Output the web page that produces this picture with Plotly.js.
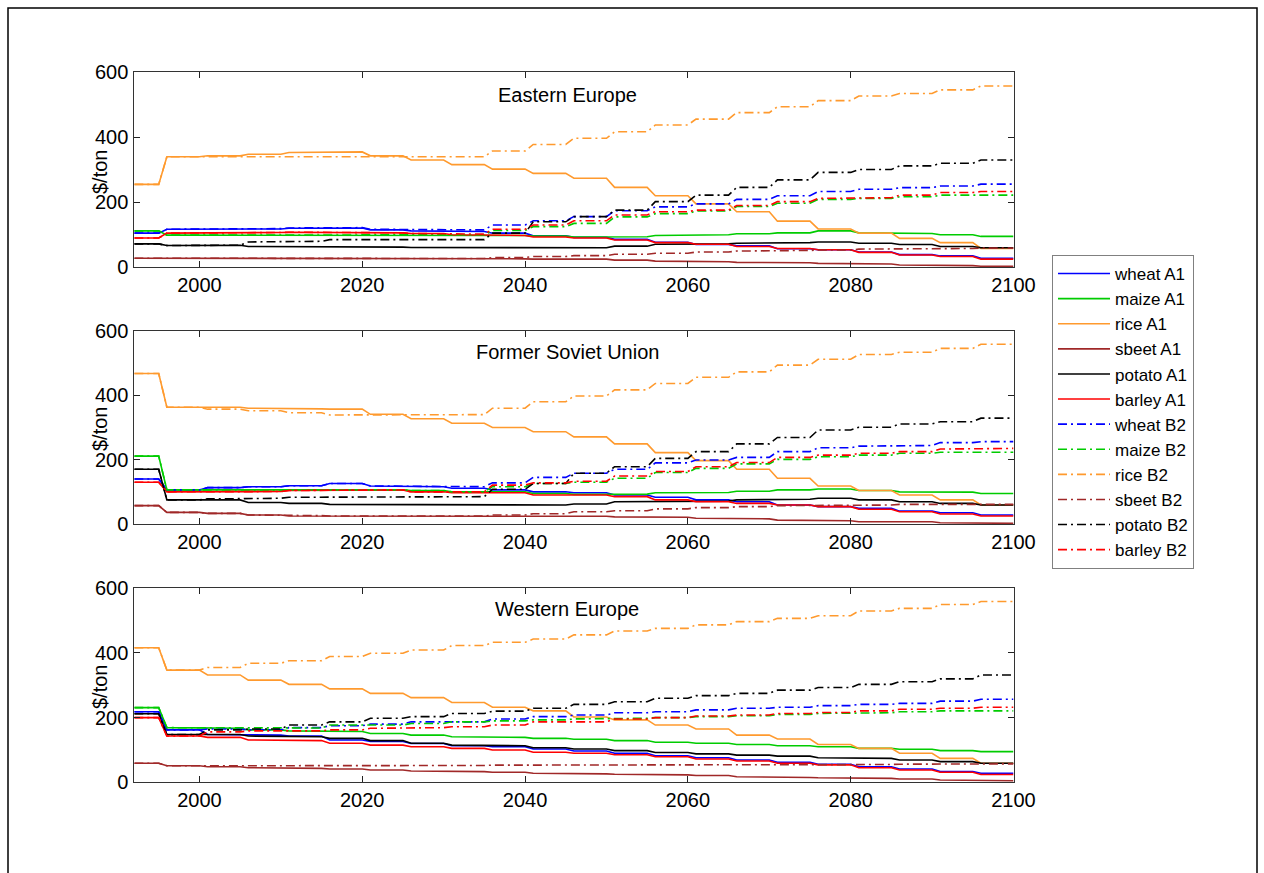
<!DOCTYPE html>
<html>
<head>
<meta charset="utf-8">
<script src="https://cdn.plot.ly/plotly-3.0.1.min.js"></script>
<style>html,body{margin:0;padding:0;background:#fff;}#chart{width:1264px;height:873px;}</style>
</head>
<body>
<div id="chart"></div>
<script>
// ---- period boundaries (5-year steps) ----
const periodStart = [1992,1996,2001,2006,2011,2016,2021,2026,2031,2036,2041,2046,2051,2056,2061,2066,2071,2076,2081,2086,2091,2096];
const periodEnd   = [1995,2000,2005,2010,2015,2020,2025,2030,2035,2040,2045,2050,2055,2060,2065,2070,2075,2080,2085,2090,2095,2100];

const crops = ["wheat","maize","rice","sbeet","potato","barley"];
const scenarios = ["A1","B2"];
const regions = ["Eastern Europe","Former Soviet Union","Western Europe"];
const yTicks = [0,200,400,600];
const xTicks = [2000,2020,2040,2060,2080,2100];

// ---- Eastern Europe ($/ton) ----
const ee_wheat_A1  = [105,117,118,118,120,121,115,112,110,105,97,92,86,77,70,66,57,54,47,39,35,28];
const ee_maize_A1  = [112,99,99,100,100,100,100,100,100,98,96,93,94,98,100,103,106,112,106,104,100,95];
const ee_rice_A1   = [255,340,343,348,353,355,343,330,316,302,289,274,246,220,195,171,142,118,105,89,76,58];
const ee_sbeet_A1  = [28,26,27,27,26,26,26,26,26,26,25,25,22,19,17,15,14,12,10,7,5,3];
const ee_potato_A1 = [72,67,68,64,64,62,62,61,61,61,60,60,65,71,72,74,76,78,74,70,64,60];
const ee_barley_A1 = [90,105,106,107,108,108,106,104,100,98,93,90,84,76,71,64,58,54,46,38,33,25];
const ee_wheat_B2  = [105,117,118,119,121,122,117,115,115,130,143,156,174,186,195,209,220,233,240,245,250,256];
const ee_maize_B2  = [112,99,100,100,101,101,100,100,100,113,125,135,155,165,173,187,197,209,212,217,222,222];
const ee_rice_B2   = [255,340,342,340,340,340,340,340,340,358,378,397,417,438,456,476,494,513,527,535,546,558];
const ee_sbeet_B2  = [28,26,27,27,27,27,27,27,27,30,33,36,40,43,47,50,52,53,56,58,58,59];
const ee_potato_B2 = [72,67,68,78,80,85,85,85,85,105,140,156,176,202,222,246,269,292,301,312,320,330];
const ee_barley_B2 = [90,105,106,107,108,108,106,104,102,117,130,143,161,171,176,190,202,212,214,222,230,233];

// ---- Former Soviet Union ($/ton) ----
const fsu_wheat_A1  = [140,106,113,116,119,126,118,116,111,106,100,97,90,83,75,69,59,54,49,40,35,28];
const fsu_maize_A1  = [211,106,106,106,107,106,106,104,100,100,95,92,93,97,98,102,106,109,104,100,99,95];
const fsu_rice_A1   = [468,363,363,360,358,357,341,327,313,300,287,271,249,222,197,170,142,118,104,90,75,59];
const fsu_sbeet_A1  = [57,36,33,28,25,23,23,23,23,24,24,24,22,21,18,16,12,10,7,7,4,2];
const fsu_potato_A1 = [170,75,75,67,64,61,61,61,59,60,59,62,69,71,71,75,77,80,75,69,64,59];
const fsu_barley_A1 = [130,100,100,101,104,106,106,100,97,97,90,90,85,75,69,64,59,54,46,38,31,25];
const fsu_wheat_B2  = [140,106,113,116,119,126,118,116,116,128,145,158,170,190,199,207,225,237,242,244,253,256];
const fsu_maize_B2  = [211,106,106,106,107,106,106,104,100,116,126,130,142,160,173,187,201,209,214,220,223,223];
const fsu_rice_B2   = [468,363,357,352,346,339,340,340,340,360,380,398,417,437,456,473,494,512,527,534,546,559];
const fsu_sbeet_B2  = [57,36,33,28,26,25,25,25,25,28,32,38,41,47,51,54,57,57,59,61,61,61];
const fsu_potato_B2 = [170,75,78,80,83,85,85,85,85,108,126,158,178,204,225,249,269,292,301,311,318,329];
const fsu_barley_B2 = [130,100,100,101,104,106,106,100,100,121,128,133,149,163,178,191,207,214,220,225,233,235];

// ---- Western Europe ($/ton) ----
const we_wheat_A1  = [218,162,148,146,143,131,126,120,113,110,103,97,90,82,76,69,62,56,48,41,33,28];
const we_maize_A1  = [231,169,167,162,159,157,151,146,141,139,136,133,129,124,121,117,113,110,105,102,98,95];
const we_rice_A1   = [416,347,332,316,303,289,275,262,247,232,221,202,193,177,165,146,134,117,105,90,74,59];
const we_sbeet_A1  = [59,51,48,45,43,41,38,35,33,31,28,26,25,23,21,17,15,14,12,10,7,5];
const we_potato_A1 = [212,148,148,143,141,136,129,121,115,113,107,103,98,92,88,84,81,76,74,69,64,59];
const we_barley_A1 = [200,143,139,131,129,121,115,110,105,100,93,90,85,79,72,66,59,54,45,38,31,24];
const we_wheat_B2  = [218,162,165,162,169,175,180,187,187,196,203,208,215,218,224,229,232,237,241,244,251,257];
const we_maize_B2  = [231,169,169,167,168,177,177,182,187,190,193,196,198,200,203,206,210,213,215,218,221,221];
const we_rice_B2   = [416,347,355,368,376,389,399,409,423,433,443,456,468,476,487,497,507,515,530,538,550,559];
const we_sbeet_B2  = [59,51,50,51,52,52,52,52,52,53,53,54,54,54,54,54,54,55,55,56,57,57];
const we_potato_B2 = [212,148,162,165,177,187,198,203,213,220,229,241,249,260,268,275,285,293,303,311,320,332];
const we_barley_B2 = [200,143,156,159,159,162,167,169,172,177,187,187,196,200,205,208,213,216,221,226,229,232];

const regionData = [
  {wheat_A1:ee_wheat_A1, maize_A1:ee_maize_A1, rice_A1:ee_rice_A1, sbeet_A1:ee_sbeet_A1, potato_A1:ee_potato_A1, barley_A1:ee_barley_A1,
   wheat_B2:ee_wheat_B2, maize_B2:ee_maize_B2, rice_B2:ee_rice_B2, sbeet_B2:ee_sbeet_B2, potato_B2:ee_potato_B2, barley_B2:ee_barley_B2},
  {wheat_A1:fsu_wheat_A1, maize_A1:fsu_maize_A1, rice_A1:fsu_rice_A1, sbeet_A1:fsu_sbeet_A1, potato_A1:fsu_potato_A1, barley_A1:fsu_barley_A1,
   wheat_B2:fsu_wheat_B2, maize_B2:fsu_maize_B2, rice_B2:fsu_rice_B2, sbeet_B2:fsu_sbeet_B2, potato_B2:fsu_potato_B2, barley_B2:fsu_barley_B2},
  {wheat_A1:we_wheat_A1, maize_A1:we_maize_A1, rice_A1:we_rice_A1, sbeet_A1:we_sbeet_A1, potato_A1:we_potato_A1, barley_A1:we_barley_A1,
   wheat_B2:we_wheat_B2, maize_B2:we_maize_B2, rice_B2:we_rice_B2, sbeet_B2:we_sbeet_B2, potato_B2:we_potato_B2, barley_B2:we_barley_B2}
];

// ---- styles ----
const colors = {wheat:"#0000FF", maize:"#00CC00", rice:"#FF9A2E", sbeet:"#A02828", potato:"#000000", barley:"#FF0000"};
const FONT = "Liberation Sans, Arial, Helvetica, sans-serif";

function stepXY(vals){
  const x = [], y = [];
  for (let i = 0; i < vals.length; i++){
    x.push(periodStart[i], periodEnd[i]);
    y.push(vals[i], vals[i]);
  }
  return {x, y};
}

const traces = [];
regions.forEach((reg, r) => {
  scenarios.forEach(s => {
    crops.forEach(c => {
      const xy = stepXY(regionData[r][c + "_" + s]);
      traces.push({
        type: "scatter", mode: "lines",
        x: xy.x, y: xy.y,
        name: c + " " + s,
        legendgroup: c + s,
        showlegend: r === 0,
        xaxis: r === 0 ? "x" : "x" + (r + 1),
        yaxis: r === 0 ? "y" : "y" + (r + 1),
        line: {color: colors[c], width: 1.6,
               dash: s === "A1" ? "solid" : "9px,4px,2px,4px"},
        hoverinfo: "skip"
      });
    });
  });
});

const W = 1264, H = 873;
const xDom = [134.3 / W, 1013.5 / W];
const yDoms = [[1 - 267.3 / H, 1 - 72.3 / H], [1 - 524 / H, 1 - 331 / H], [1 - 782.3 / H, 1 - 588.3 / H]];

function xAxis(anchor){
  return {domain: xDom, anchor: anchor, range: [1992, 2100], tickvals: xTicks, ticktext: xTicks.map(String),
    ticks: "inside", ticklen: 6, tickcolor: "#222", showline: true, linecolor: "#333", linewidth: 1,
    mirror: "ticks", showgrid: false, zeroline: false, ticklabelstandoff: 0,
    tickfont: {family: FONT, size: 20, color: "#000"}, fixedrange: true};
}
function yAxis(anchor, dom){
  return {domain: dom, anchor: anchor, range: [0, 600], tickvals: yTicks, ticktext: yTicks.map(String),
    ticks: "inside", ticklen: 6, tickcolor: "#222", showline: true, linecolor: "#333", linewidth: 1,
    mirror: "ticks", showgrid: false, zeroline: false, ticklabelstandoff: 1,
    tickfont: {family: FONT, size: 20, color: "#000"}, fixedrange: true};
}

const titleY = [1 - 95 / H, 1 - 352 / H, 1 - 609 / H];
const labelY = [1 - 172 / H, 1 - 429 / H, 1 - 687 / H];
const annotations = [];
regions.forEach((reg, r) => {
  annotations.push({text: reg, xref: "paper", yref: "paper", x: 567 / W, y: titleY[r],
    xanchor: "center", yanchor: "middle", showarrow: false, font: {family: FONT, size: 20, color: "#000"}});
  annotations.push({text: "$/ton", xref: "paper", yref: "paper", x: 100 / W, y: labelY[r],
    xanchor: "center", yanchor: "middle", textangle: -90, showarrow: false, font: {family: FONT, size: 20, color: "#000"}});
});

const layout = {
  width: W, height: H,
  margin: {l: 0, r: 0, t: 0, b: 0},
  paper_bgcolor: "#fff", plot_bgcolor: "#fff",
  font: {family: FONT, size: 20, color: "#000"},
  xaxis: xAxis("y"), xaxis2: xAxis("y2"), xaxis3: xAxis("y3"),
  yaxis: yAxis("x", yDoms[0]), yaxis2: yAxis("x2", yDoms[1]), yaxis3: yAxis("x3", yDoms[2]),
  showlegend: true,
  legend: {x: 1052 / W, y: 1 - 255 / H, xanchor: "left", yanchor: "top",
    bgcolor: "#fff", bordercolor: "#808080", borderwidth: 1,
    font: {family: FONT, size: 17, color: "#000"}, traceorder: "normal", itemwidth: 52, tracegroupgap: 0},
  annotations: annotations,
  shapes: [{type: "rect", xref: "paper", yref: "paper", x0: 8 / W, x1: 1257 / W, y0: -0.05, y1: 1 - 8 / H,
    line: {color: "#000", width: 1.5}, fillcolor: "rgba(0,0,0,0)", layer: "above"}]
};

Plotly.newPlot("chart", traces, layout, {staticPlot: true, displayModeBar: false});
</script>
</body>
</html>
